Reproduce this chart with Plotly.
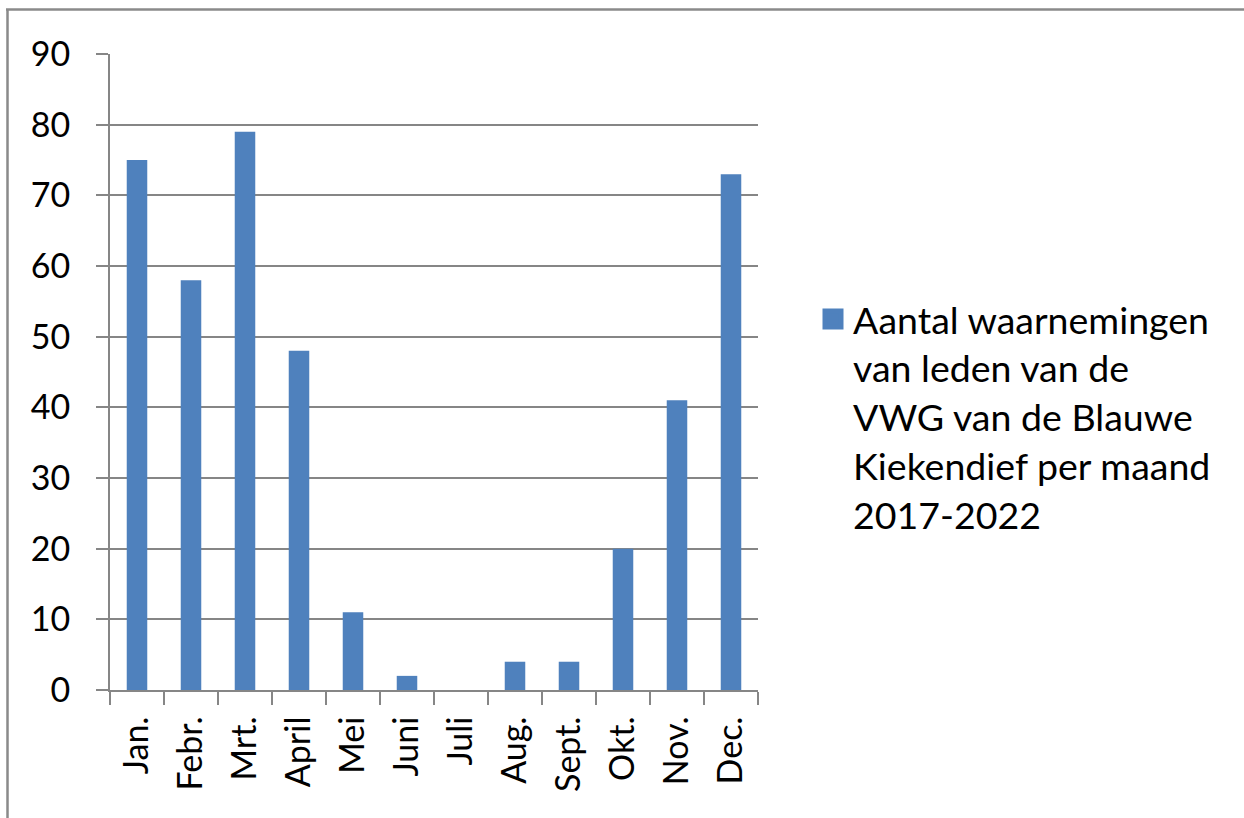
import plotly.graph_objects as go

months = ["Jan.", "Febr.", "Mrt.", "April", "Mei", "Juni", "Juli",
          "Aug.", "Sept.", "Okt.", "Nov.", "Dec."]
counts = [75, 58, 79, 48, 11, 2, 0, 4, 4, 20, 41, 73]
series_name = ("Aantal waarnemingen<br>van leden van de<br>VWG van de Blauwe"
               "<br>Kiekendief per maand<br>2017-2022")

BAR = "#4F81BD"
GRID = "#868686"
FONT = "Lato, Carlito, Calibri, sans-serif"

fig = go.Figure()
fig.add_trace(go.Bar(
    x=months, y=counts, name=series_name,
    marker=dict(color=BAR, line=dict(width=0)),
    showlegend=False,
))
fig.add_trace(go.Scatter(
    x=[None], y=[None], mode="markers", name=series_name,
    marker=dict(symbol="square", size=22, color=BAR,
                line=dict(color=BAR, width=5)),
))

L, R, T, B = 110, 758, 54, 690
W, H = 1244, 818
pw, ph = R - L, B - T

fig.update_layout(
    width=W, height=H,
    margin=dict(l=L, r=W - R, t=T, b=H - B, autoexpand=False),
    paper_bgcolor="white", plot_bgcolor="white",
    font=dict(family=FONT, size=34, color="black"),
    bargap=0.62,
    showlegend=True,
    legend=dict(
        x=(813 - L) / pw, xanchor="left",
        y=(B - 288) / ph, yanchor="top",
        valign="top",
        font=dict(family=FONT, size=37.5, color="black"),
        itemsizing="trace", itemwidth=30,
        bgcolor="rgba(0,0,0,0)",
    ),
    xaxis=dict(
        type="category", tickangle=-90, tickson="boundaries",
        ticks="outside", ticklen=13, tickwidth=2, tickcolor=GRID,
        showline=True, linecolor=GRID, linewidth=2,
        showgrid=False, ticklabelstandoff=11,
        tickfont=dict(family=FONT, size=34),
    ),
    yaxis=dict(
        range=[0, 90], dtick=10, tick0=0,
        ticks="outside", ticklen=12, tickwidth=2, tickcolor=GRID,
        showline=True, linecolor=GRID, linewidth=2,
        showgrid=True, gridcolor=GRID, gridwidth=2,
        zeroline=False, ticklabelstandoff=19,
        tickfont=dict(family=FONT, size=34),
    ),
    shapes=[
        dict(type="line", xref="paper", yref="paper",
             x0=(7.5 - L) / pw, x1=(7.5 - L) / pw,
             y0=(B - 9.5) / ph, y1=(B - 830) / ph,
             line=dict(color="#8a8a8a", width=2.5)),
        dict(type="line", xref="paper", yref="paper",
             x0=(6 - L) / pw, x1=(1260 - L) / pw,
             y0=(B - 9.5) / ph, y1=(B - 9.5) / ph,
             line=dict(color="#8a8a8a", width=2.5)),
    ],
)

fig.write_html("out.html", config={"displayModeBar": False},
               post_script="document.body.style.margin='0';document.body.style.overflow='hidden';")
